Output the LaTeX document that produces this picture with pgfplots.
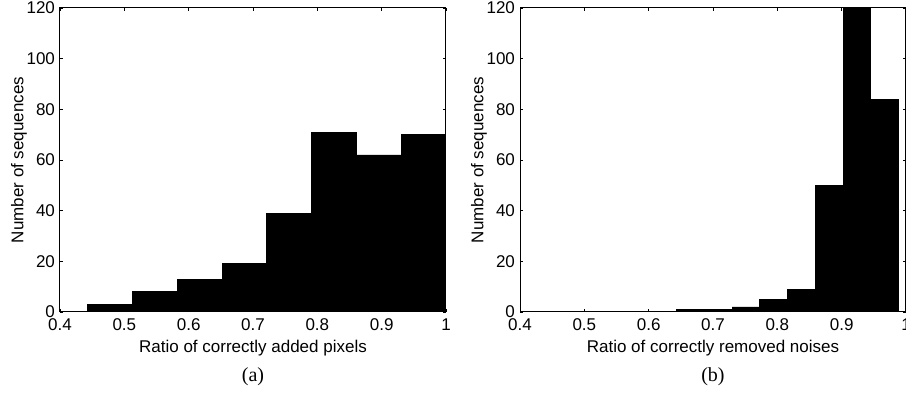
\documentclass[border=0pt]{standalone}
\usepackage{fontspec}
\setmainfont{Liberation Sans}
\newfontfamily\capfont{Liberation Serif}
\usepackage{pgfplots}
\pgfplotsset{compat=1.18}

\pgfplotstableread{
x y
0.3736 0
0.4432 3
0.5128 8
0.5824 13
0.6520 19
0.7216 39
0.7912 71
0.8608 62
0.9304 70
1.0000 70
}\histA

\pgfplotstableread{
x y
0.3849 0
0.4280 0
0.4711 0
0.5142 0
0.5573 0
0.6004 0
0.6435 1
0.6866 1
0.7297 2
0.7728 5
0.8159 9
0.8590 50
0.9021 150
0.9452 84
0.9883 84
}\histB

\begin{document}
\begin{tikzpicture}
\pgfplotsset{
  myhist/.style={
    scale only axis, width=193pt, height=152pt,
    xmin=0.4, xmax=1, ymin=0, ymax=120,
    xtick={0.4,0.5,0.6,0.7,0.8,0.9,1}, ytick={0,20,40,60,80,100,120},
    tick align=inside, major tick length=1.5pt,
    tick style={black, line width=0.4pt},
    axis line style={line width=0.5pt},
    tick label style={font=\fontsize{8.5}{10}\selectfont},
    label style={font=\fontsize{8.5}{10}\selectfont},
    /pgf/number format/assume math mode=true,
    xticklabel style={/pgf/number format/fixed},
    yticklabel style={xshift=1pt},
    xlabel style={yshift=2.5pt},
    ylabel style={yshift=-7pt},
    ylabel={Number of sequences},
  }
}
\begin{axis}[myhist, name=a, at={(0pt,0pt)}, anchor=south west,
  xlabel={Ratio of correctly added pixels}]
\addplot[ybar interval, fill=black, draw=black, line width=0.4pt] table[x=x,y=y] {\histA};
\end{axis}
\node[font=\capfont\fontsize{10}{12}\selectfont] at ([yshift=-32.5pt]a.south) {(a)};

\begin{axis}[myhist, name=b, at={(230pt,0pt)}, anchor=south west,
  xlabel={Ratio of correctly removed noises}]
\addplot[ybar interval, fill=black, draw=black, line width=0.4pt] table[x=x,y=y] {\histB};
\end{axis}
\node[font=\capfont\fontsize{10}{12}\selectfont] at ([yshift=-32.5pt]b.south) {(b)};

\pgfresetboundingbox
\useasboundingbox (-30pt,-42pt) rectangle (423pt,156pt);
\end{tikzpicture}
\end{document}
